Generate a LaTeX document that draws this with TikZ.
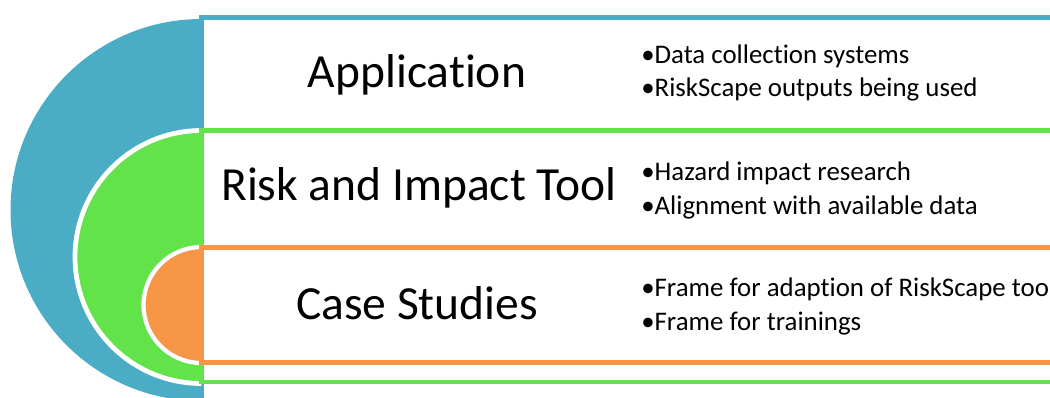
\documentclass[tikz,border=0pt]{standalone}
\usepackage{fontspec}
\setmainfont{Carlito}[Ligatures=NoCommon]
\usepackage{xcolor}
\definecolor{appblue}{HTML}{4BACC6}
\definecolor{toolgreen}{HTML}{62E34A}
\definecolor{caseorange}{HTML}{F79646}

\begin{document}
\begin{tikzpicture}[x=0.025cm,y=-0.025cm,
                    band/.style={fill=white,line width=3pt},
                    ring/.style={draw=white,line width=3.4pt},
                    head node/.style={inner sep=0pt,anchor=base,font=\fontsize{33.8}{40}\selectfont},
                    item node/.style={inner sep=0pt,anchor=base west,font=\fontsize{19.1}{23.5}\selectfont}]
      \useasboundingbox (0,0) rectangle (1050,397);
      \clip (0,0) rectangle (1050,397);

      % outer level
      \fill[appblue] (201.5,19) arc (270:90:191) -- cycle;
      \draw[band,draw=appblue] (201.5,17.5) rectangle (1070,410);

      % middle level
      \fill[toolgreen] (201.5,130.5) arc (270:90:126.5) -- cycle;
      \draw[ring] (201.5,130.5) arc (270:90:126.5);
      \draw[band,draw=toolgreen] (201.5,130.5) rectangle (1070,382);

      % inner level
      \fill[caseorange] (201.5,247) arc (270:90:58) -- cycle;
      \draw[ring,line width=3pt] (201.5,247) arc (270:90:58);
      \draw[band,draw=caseorange] (201.5,247.5) rectangle (1070,362.5);

      \node[head node] (app) at (417,87) {Application};
      \node[head node] (tool) at (419,200) {Risk and Impact Tool};
      \node[head node] (case) at (417,319) {Case Studies};

      \node[item node] (app1) at (641,63.3) {•Data collection systems};
      \node[item node] (app2) at (641,96.7) {•RiskScape outputs being used};
      \node[item node] (tool1) at (641,180.7) {•Hazard impact research};
      \node[item node] (tool2) at (641,214) {•Alignment with available data};
      \node[item node] (case1) at (641,296.7) {•Frame for adaption of RiskScape tool};
      \node[item node] (case2) at (641,330) {•Frame for trainings};
\end{tikzpicture}
\end{document}
